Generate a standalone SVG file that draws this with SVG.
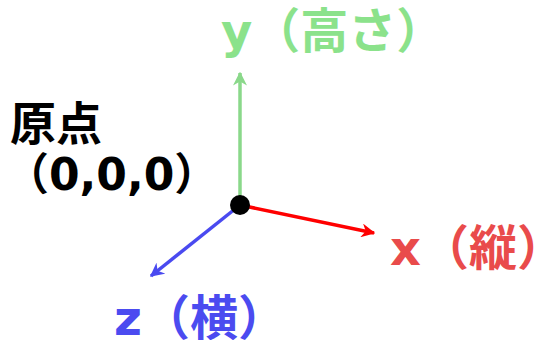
<svg xmlns="http://www.w3.org/2000/svg" width="541" height="340" viewBox="0 0 541 340">
<defs>
<style>
text{font-family:"DejaVu Sans","Noto Sans CJK JP",sans-serif;font-weight:bold;font-size:48px}
.ax{stroke-width:3.5;fill:none}
</style>
<marker id="mg" viewBox="0 0 10 10" refX="9" refY="5" markerWidth="4" markerHeight="4" orient="auto" markerUnits="strokeWidth"><path d="M0,0 L10,5 L0,10 L3,5 Z" fill="#8ad88a"/></marker>
<marker id="mr" viewBox="0 0 10 10" refX="9" refY="5" markerWidth="4" markerHeight="4" orient="auto" markerUnits="strokeWidth"><path d="M0,0 L10,5 L0,10 L3,5 Z" fill="#ff0000"/></marker>
<marker id="mb" viewBox="0 0 10 10" refX="9" refY="5" markerWidth="4" markerHeight="4" orient="auto" markerUnits="strokeWidth"><path d="M0,0 L10,5 L0,10 L3,5 Z" fill="#4a4af0"/></marker>
</defs>
<rect width="541" height="340" fill="#fff"/>
<g id="connectors">
<line class="ax" x1="240" y1="205" x2="240" y2="73" stroke="#8ad88a" marker-end="url(#mg)"/>
<line class="ax" x1="240" y1="205" x2="374" y2="233" stroke="#ff0000" marker-end="url(#mr)"/>
<line class="ax" x1="240" y1="205" x2="151" y2="276" stroke="#4a4af0" marker-end="url(#mb)"/>
</g>
<g id="origin">
<circle cx="240" cy="205" r="10" fill="#000"/>
<text x="10" y="140" fill="#000" style="font-size:46px">原点</text>
<text x="5" y="190" fill="#000" style="font-size:44px">（0,0,0）</text>
</g>
<g id="y-axis"><text x="221" y="48" fill="#8be28b">y（高さ）</text></g>
<g id="x-axis"><text x="390" y="265" fill="#e94b4b">x（縦）</text></g>
<g id="z-axis"><text x="114" y="335" fill="#4b4bf0">z（横）</text></g>
</svg>
